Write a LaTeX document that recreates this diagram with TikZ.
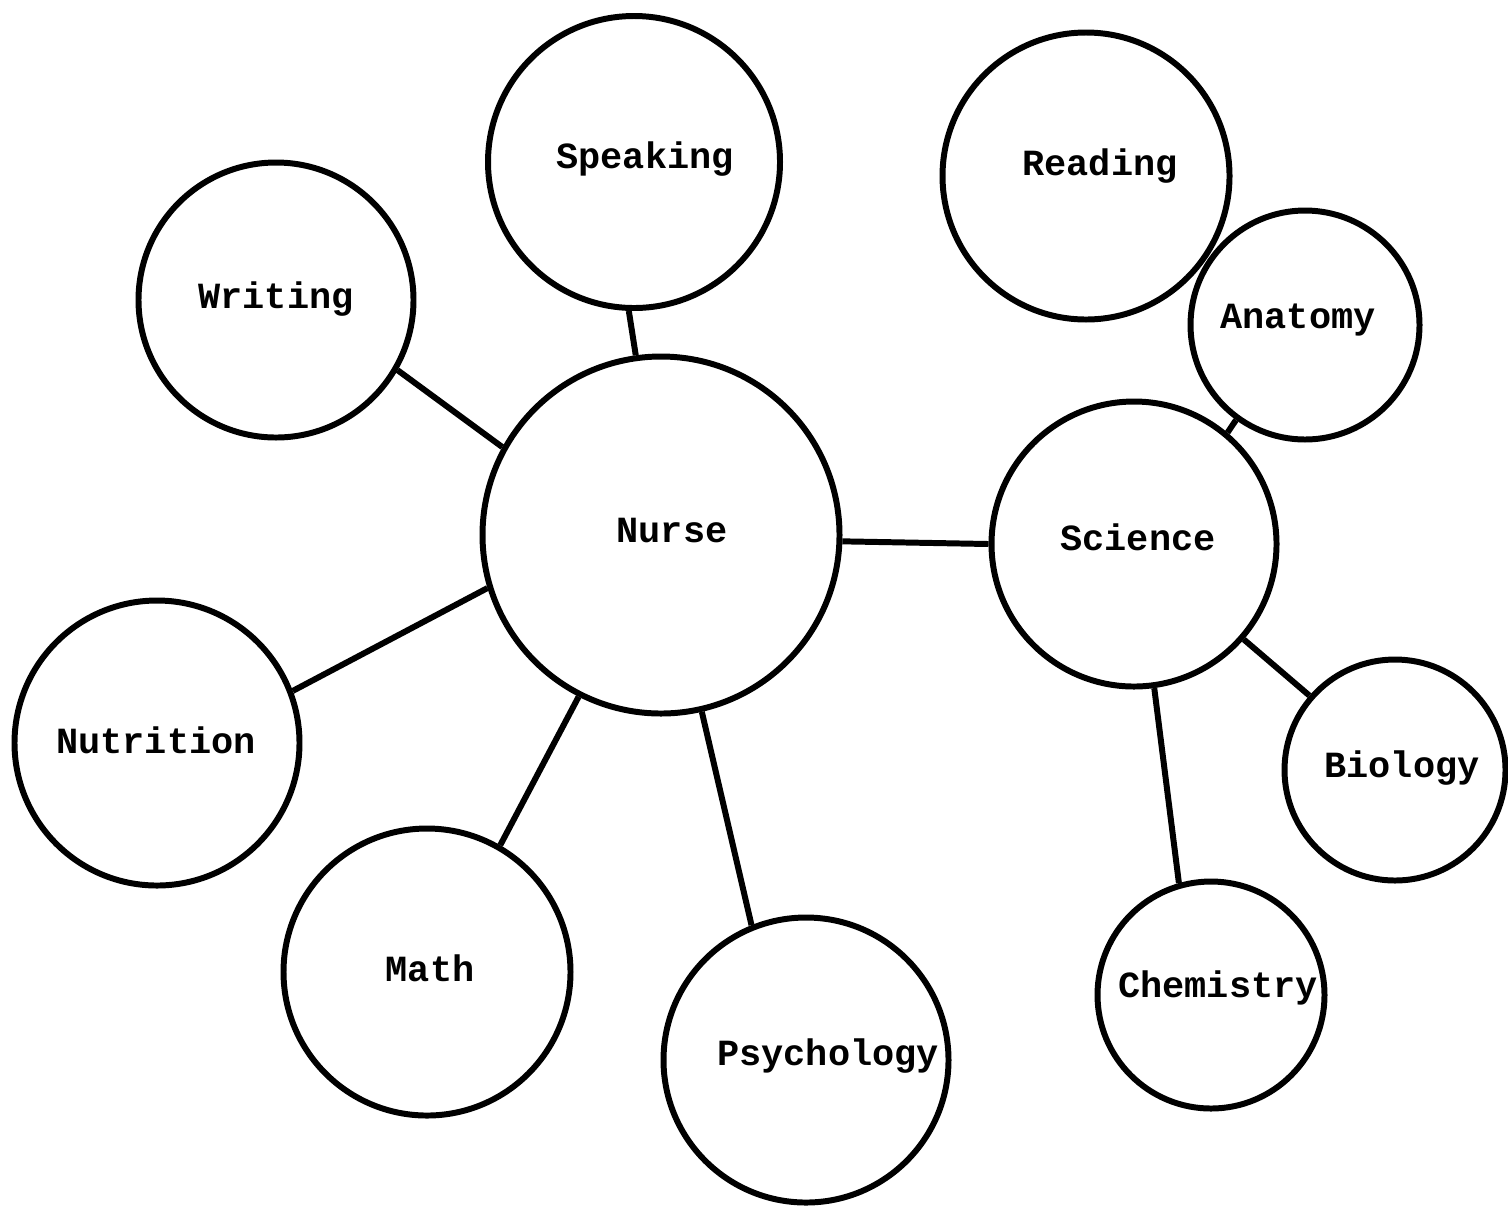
\documentclass[tikz,border=0pt]{standalone}
\usepackage{fontspec}
\setmonofont{Liberation Mono}
\begin{document}
\begin{tikzpicture}
            \useasboundingbox (0,0) rectangle (15.08,-12.06);
            \begin{scope}[every node/.style={circle,draw,line width=1.7pt,inner sep=0pt}]
                \node[minimum size=3.57cm] (nurse) at (6.61,-5.35) {};

                \node[minimum size=2.92cm] (speaking) at (6.34,-1.62) {};
                \node[minimum size=2.75cm] (writing) at (2.76,-3.00) {};
                \node[minimum size=2.85cm] (nutrition) at (1.57,-7.43) {};
                \node[minimum size=2.87cm] (math) at (4.27,-9.72) {};
                \node[minimum size=2.85cm] (psychology) at (8.06,-10.60) {};

                \node[minimum size=2.85cm] (science) at (11.34,-5.44) {};
                \node[minimum size=2.87cm] (reading) at (10.86,-1.76) {};
                \node[minimum size=2.29cm] (anatomy) at (13.05,-3.25) {};
                \node[minimum size=2.21cm] (biology) at (13.95,-7.70) {};
                \node[minimum size=2.27cm] (chemistry) at (12.11,-9.95) {};
            \end{scope}

            \begin{scope}[every node/.style={font=\ttfamily\bfseries\fontsize{10.5}{12}\selectfont,text height=0.6em,text depth=0pt,inner sep=0pt}]
                \node (nurse-t) at (6.72,-5.32) {Nurse};
                \node (speaking-t) at (6.45,-1.58) {Speaking};
                \node (writing-t) at (2.76,-2.98) {Writing};
                \node (nutrition-t) at (1.56,-7.43) {Nutrition};
                \node (math-t) at (4.30,-9.71) {Math};
                \node (psychology-t) at (8.28,-10.55) {Psychology};
                \node (science-t) at (11.38,-5.40) {Science};
                \node (reading-t) at (11.00,-1.65) {Reading};
                \node (anatomy-t) at (12.98,-3.18) {Anatomy};
                \node (biology-t) at (14.02,-7.67) {Biology};
                \node (chemistry-t) at (12.18,-9.87) {Chemistry};
            \end{scope}

            \begin{scope}[line width=1.7pt]
                \path (speaking.-92) edge (nurse.98);
                \path (writing.-30) edge (nurse.151);
                \path (nutrition.21) edge (nurse.197);
                \path (math.60) edge (nurse.243);
                \path (nurse.-77) edge (psychology.112);
                \path (nurse.-2) edge (science.180);

                \path (science.50) edge (anatomy.234);
                \path (science.-41) edge (biology.139);
                \path (science.-82) edge (chemistry.106);
            \end{scope}
            \end{tikzpicture}
\end{document}
